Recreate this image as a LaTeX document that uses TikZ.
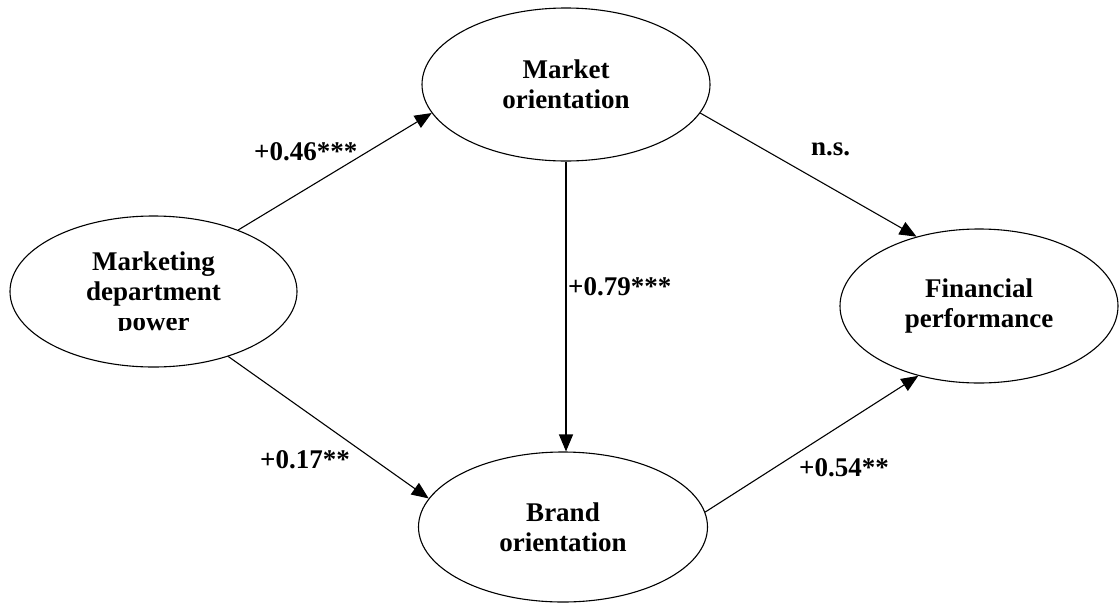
\documentclass[tikz,border=0pt]{standalone}
\usepackage{fontspec}
\setmainfont{Liberation Serif}
\usepackage{adjustbox}
\usetikzlibrary{shapes.geometric,arrows.meta}
\tikzset{
  construct/.style={ellipse,draw,line width=1.1pt,inner sep=0pt,align=center,
    font=\bfseries\fontsize{27}{30}\selectfont},
  path/.style={line width=1.1pt,-{Triangle[length=17pt,width=14pt]}},
  coef/.style={inner sep=0pt,anchor=base west,font=\bfseries\fontsize{27}{30}\selectfont}
}
\begin{document}
\begin{tikzpicture}[x=1pt,y=1pt]
\useasboundingbox (0,0) rectangle (1119,-603);
\node[construct,minimum width=287pt,minimum height=151pt] (mdp) at (153.5,-291.5)
  {Marketing\\department\\\clipbox{0pt {\depth} 0pt 0pt}{power}};
\node[construct,minimum width=288pt,minimum height=153pt] (mo) at (566,-84.5)
  {Market\\orientation};
\node[construct,minimum width=278pt,minimum height=154pt] (fp) at (979,-306)
  {Financial\\performance};
\node[construct,minimum width=289pt,minimum height=150pt] (bo) at (563,-527)
  {Brand\\orientation};
\draw[path] (mdp.36.3) -- (mo.192.2);
\draw[path] (mo.348.1) -- (fp.132.9);
\draw[path] (mo.south) -- (mo.south |- bo.north);
\draw[path] (mdp.319.6) -- (bo.168.5);
\draw[path] (bo.6.8) -- (fp.229.3);
\node[coef] (l1) at (254,-160) {+0.46***};
\node[coef] (l2) at (811,-155) {n.s.};
\node[coef] (l3) at (568,-295) {+0.79***};
\node[coef] (l4) at (260,-468) {+0.17**};
\node[coef] (l5) at (799,-476) {+0.54**};
\end{tikzpicture}
\end{document}
